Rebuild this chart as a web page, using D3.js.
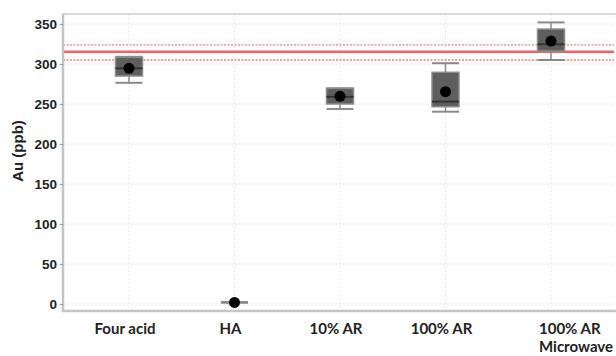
<!DOCTYPE html>
<html>
<head>
<meta charset="utf-8">
<script src="https://cdn.jsdelivr.net/npm/d3@7/dist/d3.min.js"></script>
<style>
  html, body { margin: 0; padding: 0; background: #fff; }
  svg { display: block; }
</style>
</head>
<body>
<svg id="chart" width="616" height="356"></svg>
<script>
// Digestion methods along the x axis
const methods = ["Four acid", "HA", "10% AR", "100% AR", "100% AR\nMicrowave"];
// Box-plot statistics per method (Au, ppb)
const whiskerLow  = [276.5, 1.5, 243.8, 240.4, 305.0];
const boxLow      = [285.0, 1.5, 250.0, 246.6, 316.2];
const medians     = [294.6, 2.0, 259.0, 253.0, 324.6];
const boxHigh     = [308.4, 2.5, 269.6, 289.6, 343.7];
const whiskerHigh = [309.0, 2.5, 269.6, 301.0, 352.0];
const means       = [294.6, 2.0, 259.6, 265.4, 328.7];
// Certified reference value and its tolerance band
const certified = 315.4;
const certifiedBand = [305.0, 323.8];
const yTicks = [0, 50, 100, 150, 200, 250, 300, 350];

const svg = d3.select("#chart");
const plot = { left: 63, right: 614, top: 14, bottom: 311 };

const x = d3.scalePoint().domain(methods).range([129, 551]);
const y = d3.scaleLinear().domain([-8.75, 362.5]).range([plot.bottom, plot.top]);

// Gridlines
svg.append("g").selectAll("line").data(yTicks).join("line")
  .attr("x1", plot.left).attr("x2", plot.right)
  .attr("y1", d => y(d)).attr("y2", d => y(d))
  .attr("stroke", "#e2e2e2").attr("stroke-width", 1).attr("stroke-dasharray", "2,2");
svg.append("g").selectAll("line").data(methods).join("line")
  .attr("x1", d => x(d)).attr("x2", d => x(d))
  .attr("y1", plot.top).attr("y2", plot.bottom)
  .attr("stroke", "#e8e8e8").attr("stroke-width", 1).attr("stroke-dasharray", "2,2");

// Plot frame: light top edge
svg.append("line").attr("x1", plot.left).attr("x2", plot.right + 2)
  .attr("y1", plot.top).attr("y2", plot.top)
  .attr("stroke", "#dadada").attr("stroke-width", 2);

// Certified value lines
svg.append("g").selectAll("line").data(certifiedBand).join("line")
  .attr("x1", plot.left).attr("x2", plot.right)
  .attr("y1", d => y(d)).attr("y2", d => y(d))
  .attr("stroke", "#f08080").attr("stroke-width", 1.3).attr("stroke-dasharray", "2,1.5");
svg.append("line").attr("x1", plot.left).attr("x2", plot.right)
  .attr("y1", y(certified)).attr("y2", y(certified))
  .attr("stroke", "#ee6464").attr("stroke-width", 2.4);

// Boxes
const boxW = 27;
const g = svg.append("g").selectAll("g").data(methods).join("g");
g.append("line")
  .attr("x1", d => x(d)).attr("x2", d => x(d))
  .attr("y1", (d, i) => y(whiskerLow[i])).attr("y2", (d, i) => y(whiskerHigh[i]))
  .attr("stroke", "#8a8a8a").attr("stroke-width", 1.5);
g.each(function (d, i) {
  const sel = d3.select(this);
  [whiskerLow[i], whiskerHigh[i]].forEach(v => {
    sel.append("line")
      .attr("x1", x(d) - boxW / 2).attr("x2", x(d) + boxW / 2)
      .attr("y1", y(v)).attr("y2", y(v))
      .attr("stroke", "#8a8a8a").attr("stroke-width", 2);
  });
  if (boxHigh[i] - boxLow[i] > 2) {
    sel.append("rect")
      .attr("x", x(d) - boxW / 2).attr("width", boxW)
      .attr("y", y(boxHigh[i])).attr("height", y(boxLow[i]) - y(boxHigh[i]))
      .attr("fill", "#5e5e5e").attr("stroke", "#8c8c8c").attr("stroke-width", 1.5);
    sel.append("line")
      .attr("x1", x(d) - boxW / 2).attr("x2", x(d) + boxW / 2)
      .attr("y1", y(medians[i])).attr("y2", y(medians[i]))
      .attr("stroke", "#333").attr("stroke-width", 2);
  }
  sel.append("circle")
    .attr("cx", x(d)).attr("cy", y(means[i])).attr("r", 5.5)
    .attr("fill", "#000");
});

// Axes
const yAxis = svg.append("g").attr("transform", `translate(${plot.left},0)`)
  .call(d3.axisLeft(y).tickValues(yTicks).tickSize(3).tickPadding(3));
yAxis.select(".domain").attr("stroke", "#c4c4c4").attr("stroke-width", 2.5)
  .attr("d", `M0,${plot.top}V${plot.bottom}`);
yAxis.selectAll(".tick line").attr("stroke", "#999");
yAxis.selectAll(".tick text")
  .attr("font-family", "'Liberation Sans', Arial, sans-serif")
  .attr("font-weight", "bold").attr("font-size", 13.5).attr("fill", "#222");

svg.append("line").attr("x1", plot.left - 1).attr("x2", plot.right + 2)
  .attr("y1", plot.bottom).attr("y2", plot.bottom)
  .attr("stroke", "#c4c4c4").attr("stroke-width", 2.5);

const labelX = d => d.includes("\n") ? x(d) - 12 : x(d) - 4;
const xl = svg.append("g").selectAll("text").data(methods).join("text")
  .attr("font-family", "Lato, 'Open Sans', sans-serif")
  .attr("font-weight", "bold").attr("font-size", 15).attr("fill", "#222")
  .attr("text-anchor", d => d.includes("\n") ? "start" : "middle")
  .attr("y", 334);
xl.each(function (d) {
  const lines = d.split("\n");
  d3.select(this).selectAll("tspan").data(lines).join("tspan")
    .attr("x", labelX(d))
    .attr("dy", (t, k) => k === 0 ? 0 : 18)
    .text(t => t);
});

// Y-axis title
svg.append("text")
  .attr("transform", "translate(23,151) rotate(-90)")
  .attr("text-anchor", "middle")
  .attr("font-family", "'Liberation Sans', Arial, sans-serif")
  .attr("font-weight", "bold").attr("font-size", 15).attr("fill", "#222")
  .text("Au (ppb)");
</script>
</body>
</html>
